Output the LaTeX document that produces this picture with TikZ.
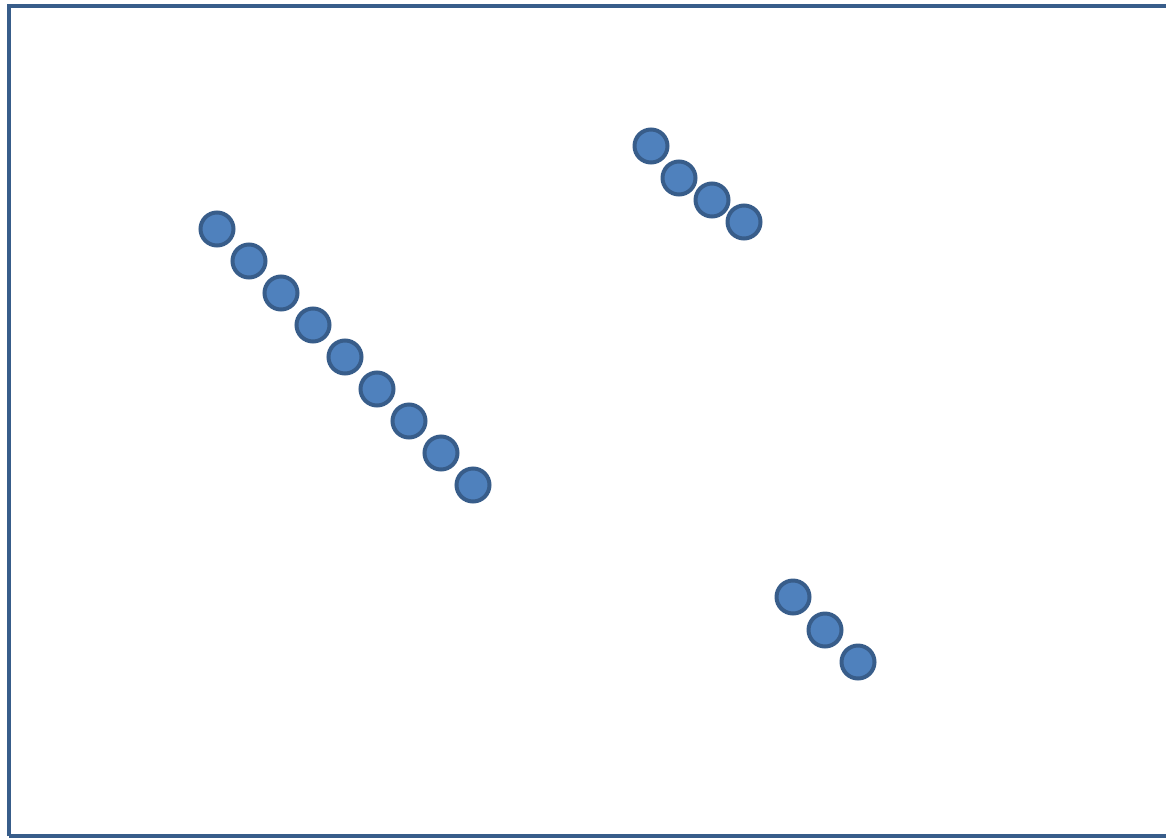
\documentclass[tikz,border=0pt]{standalone}
\definecolor{dotfill}{HTML}{4F81BD}
\definecolor{dotline}{HTML}{385D8A}
\begin{document}
\begin{tikzpicture}[x=1pt,y=-1pt,
  dot/.style={circle,draw=dotline,fill=dotfill,line width=4pt,minimum size=33pt,inner sep=0pt}]
\useasboundingbox (0,0) rectangle (1166,838);
\draw[dotline,line width=4pt] (9,836) -- (9,6) -- (1175,6);
\draw[dotline,line width=4pt] (9,836) -- (1175,836);
\foreach \i/\x/\y in {1/217/229,2/249/261,3/281/293,4/313/325,5/345/357,6/377/389,7/409/421,8/441/453,9/473/485}
  \node[dot] (a\i) at (\x,\y) {};
\foreach \i/\x/\y in {1/651/146,2/679/178,3/712/200,4/744/222}
  \node[dot] (b\i) at (\x,\y) {};
\foreach \i/\x/\y in {1/793/597,2/825/630,3/858/662}
  \node[dot] (c\i) at (\x,\y) {};
\end{tikzpicture}
\end{document}
